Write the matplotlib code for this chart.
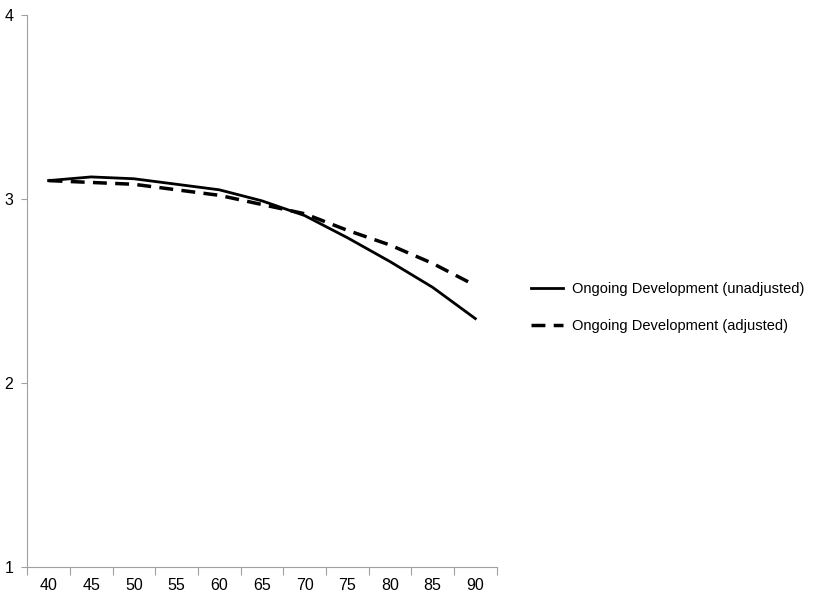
import matplotlib
matplotlib.use("Agg")
from matplotlib import pyplot as plt

ages = [40, 45, 50, 55, 60, 65, 70, 75, 80, 85, 90]
unadjusted = [3.10, 3.12, 3.11, 3.08, 3.05, 2.99, 2.91, 2.79, 2.66, 2.52, 2.35]
adjusted = [3.10, 3.09, 3.08, 3.05, 3.02, 2.97, 2.92, 2.83, 2.75, 2.65, 2.53]
labels = ["Ongoing Development (unadjusted)", "Ongoing Development (adjusted)"]

plt.rcParams['font.family'] = ['Liberation Sans', 'DejaVu Sans']

fig = plt.figure(figsize=(8.25, 6), dpi=100)
ax = fig.add_axes([0.033, 0.055, 0.569, 0.92])

pos = list(range(len(ages)))
ax.plot(pos, unadjusted, color='black', lw=2, label=labels[0])
ax.plot(pos, adjusted, color='black', lw=2.5, ls=(0, (4, 2.4)), label=labels[1])

ax.set_xlim(-0.5, len(ages) - 0.5)
ax.set_ylim(1, 4)
ax.set_yticks([1, 2, 3, 4])

# category axis: ticks between categories, labels at centers
ax.set_xticks([p - 0.5 for p in pos] + [len(ages) - 0.5])
ax.set_xticklabels([])
ax.set_xticks(pos, minor=True)
ax.set_xticklabels([str(a) for a in ages], minor=True)
ax.tick_params(axis='x', which='minor', length=0, pad=8, labelsize=11.5)
ax.tick_params(axis='x', which='major', length=6, color='#a0a0a0', direction='out')
ax.tick_params(axis='y', length=4, color='#a0a0a0', labelsize=11.5, pad=6)

for side in ['top', 'right']:
    ax.spines[side].set_visible(False)
for side in ['left', 'bottom']:
    ax.spines[side].set_color('#a0a0a0')

ax.legend(loc='center left', bbox_to_anchor=(1.045, 0.47), frameon=False,
          fontsize=10.5, handlelength=2.2, labelspacing=1.6, handletextpad=0.6)

fig.savefig("out.png", dpi=100)
